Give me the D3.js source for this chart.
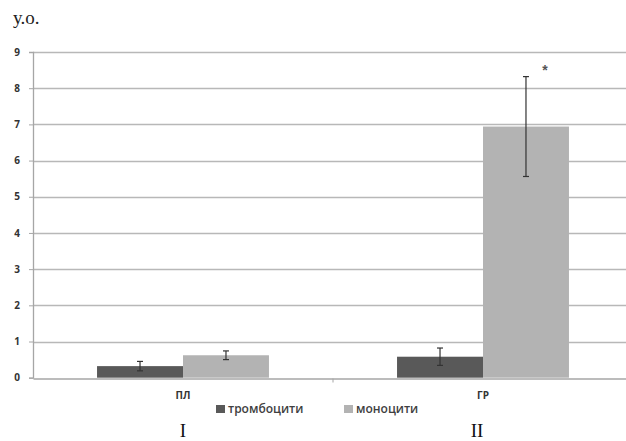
<!DOCTYPE html>
<html>
<head>
<meta charset="utf-8">
<script src="https://cdn.jsdelivr.net/npm/d3@7"></script>
<style>
  body { margin: 0; background: #fff; }
  svg { display: block; }
</style>
</head>
<body>
<div id="chart"></div>
<script>
(function () {
    const categories = ["ПЛ", "ГР"];
    const series = ["тромбоцити", "моноцити"];
    const values = [[0.32, 0.62], [0.58, 6.94]];
    const errors = [[0.13, 0.12], [0.24, 1.38]];
    const yTicks = [0, 1, 2, 3, 4, 5, 6, 7, 8, 9];
    const romans = ["I", "II"];
    const colors = ["#595959", "#b3b3b3"];

    const width = 626, height = 441;
    const margin = { left: 33, top: 52, right: -7, bottom: 63 };

    const svg = d3.select("#chart").append("svg")
        .attr("width", width)
        .attr("height", height);

    const x = d3.scaleBand()
        .domain(categories)
        .range([margin.left, width - margin.right])
        .paddingInner(0)
        .paddingOuter(0);

    const x1 = d3.scaleBand()
        .domain(series)
        .range([0, x.bandwidth()])
        .paddingOuter(0.745);

    const y = d3.scaleLinear()
        .domain([0, 9])
        .range([height - margin.bottom - 0.3, margin.top]);

    // grid lines
    svg.append("g")
        .selectAll("line")
        .data(yTicks.filter(d => d > 0))
        .join("line")
        .attr("x1", margin.left)
        .attr("x2", width)
        .attr("y1", d => Math.round(y(d)) + 0.5)
        .attr("y2", d => Math.round(y(d)) + 0.5)
        .attr("stroke", "#b8b8b8")
        .attr("stroke-width", 1.3);

    // bars
    const groups = svg.append("g")
        .selectAll("g")
        .data(categories)
        .join("g")
        .attr("transform", d => `translate(${x(d)},0)`);

    groups.selectAll("rect")
        .data((d, i) => series.map((s, j) => ({ s, v: values[i][j], e: errors[i][j], j })))
        .join("rect")
        .attr("x", d => x1(d.s))
        .attr("width", x1.bandwidth())
        .attr("y", d => y(d.v))
        .attr("height", d => y(0) - y(d.v))
        .attr("fill", d => colors[d.j]);

    // error bars
    const err = groups.selectAll("g.err")
        .data((d, i) => series.map((s, j) => ({ s, v: values[i][j], e: errors[i][j] })))
        .join("g")
        .attr("class", "err")
        .attr("stroke", "#333")
        .attr("stroke-width", 1.2);

    err.append("line")
        .attr("x1", d => x1(d.s) + x1.bandwidth() / 2)
        .attr("x2", d => x1(d.s) + x1.bandwidth() / 2)
        .attr("y1", d => y(d.v + d.e))
        .attr("y2", d => y(d.v - d.e));

    [1, -1].forEach(sign => {
        err.append("line")
            .attr("x1", d => x1(d.s) + x1.bandwidth() / 2 - 3)
            .attr("x2", d => x1(d.s) + x1.bandwidth() / 2 + 3)
            .attr("y1", d => y(d.v + sign * d.e))
            .attr("y2", d => y(d.v + sign * d.e));
    });

    // asterisk
    svg.append("text")
        .attr("x", x("ГР") + x1("моноцити") + x1.bandwidth() / 2 + 19)
        .attr("y", y(values[1][1] + errors[1][1]) - 2)
        .attr("text-anchor", "middle")
        .attr("font-family", "Liberation Sans, Arial, sans-serif")
        .attr("font-size", 14)
        .attr("font-weight", "bold")
        .attr("fill", "#555")
        .text("*");

    // y axis
    const yAxis = svg.append("g")
        .attr("transform", `translate(${margin.left},0)`)
        .call(d3.axisLeft(y).tickValues(yTicks).tickSize(4).tickPadding(9));
    yAxis.select(".domain").attr("stroke", "#a6a6a6").attr("stroke-width", 1.3);
    yAxis.selectAll(".tick line").attr("stroke", "#a6a6a6");
    yAxis.selectAll(".tick text")
        .attr("font-family", "Open Sans, sans-serif")
        .attr("font-size", 10)
        .attr("font-weight", "bold")
        .attr("fill", "#333");

    // x axis
    const xAxis = svg.append("g")
        .attr("transform", `translate(0,${Math.round(y(0)) + 0.5})`)
        .call(d3.axisBottom(x).tickSize(0).tickPadding(13));
    xAxis.select(".domain").attr("stroke", "#a6a6a6").attr("stroke-width", 1.3);
    xAxis.selectAll(".tick text")
        .attr("font-family", "Open Sans, sans-serif")
        .attr("font-size", 10)
        .attr("font-weight", "bold")
        .attr("fill", "#333");
    xAxis.append("line")
        .attr("x1", x("ГР")).attr("x2", x("ГР"))
        .attr("y1", 0).attr("y2", 4)
        .attr("stroke", "#a6a6a6");

    // legend
    const legendX = [216, 344];
    const legend = svg.append("g")
        .selectAll("g")
        .data(series)
        .join("g")
        .attr("transform", (d, i) => `translate(${legendX[i]},405)`);
    legend.append("rect")
        .attr("width", 9)
        .attr("height", 8)
        .attr("fill", (d, i) => colors[i]);
    legend.append("text")
        .attr("x", 12)
        .attr("y", 8)
        .attr("font-family", "Open Sans, sans-serif")
        .attr("font-size", 12)
        .attr("font-weight", 600)
        .attr("fill", "#404040")
        .text(d => d);

    // roman numerals
    svg.append("g")
        .selectAll("text")
        .data(categories)
        .join("text")
        .attr("x", d => x(d) + x.bandwidth() / 2 - (d === "ГР" ? 6 : 0))
        .attr("y", 437)
        .attr("text-anchor", "middle")
        .attr("font-family", "Liberation Serif, Times New Roman, serif")
        .attr("font-size", 19)
        .attr("fill", "#111")
        .text((d, i) => romans[i]);

    // unit label
    svg.append("text")
        .attr("x", 13)
        .attr("y", 24)
        .attr("font-family", "Liberation Serif, Times New Roman, serif")
        .attr("font-size", 19)
        .attr("fill", "#222")
        .text("у.о.");
})();
</script>
</body>
</html>
